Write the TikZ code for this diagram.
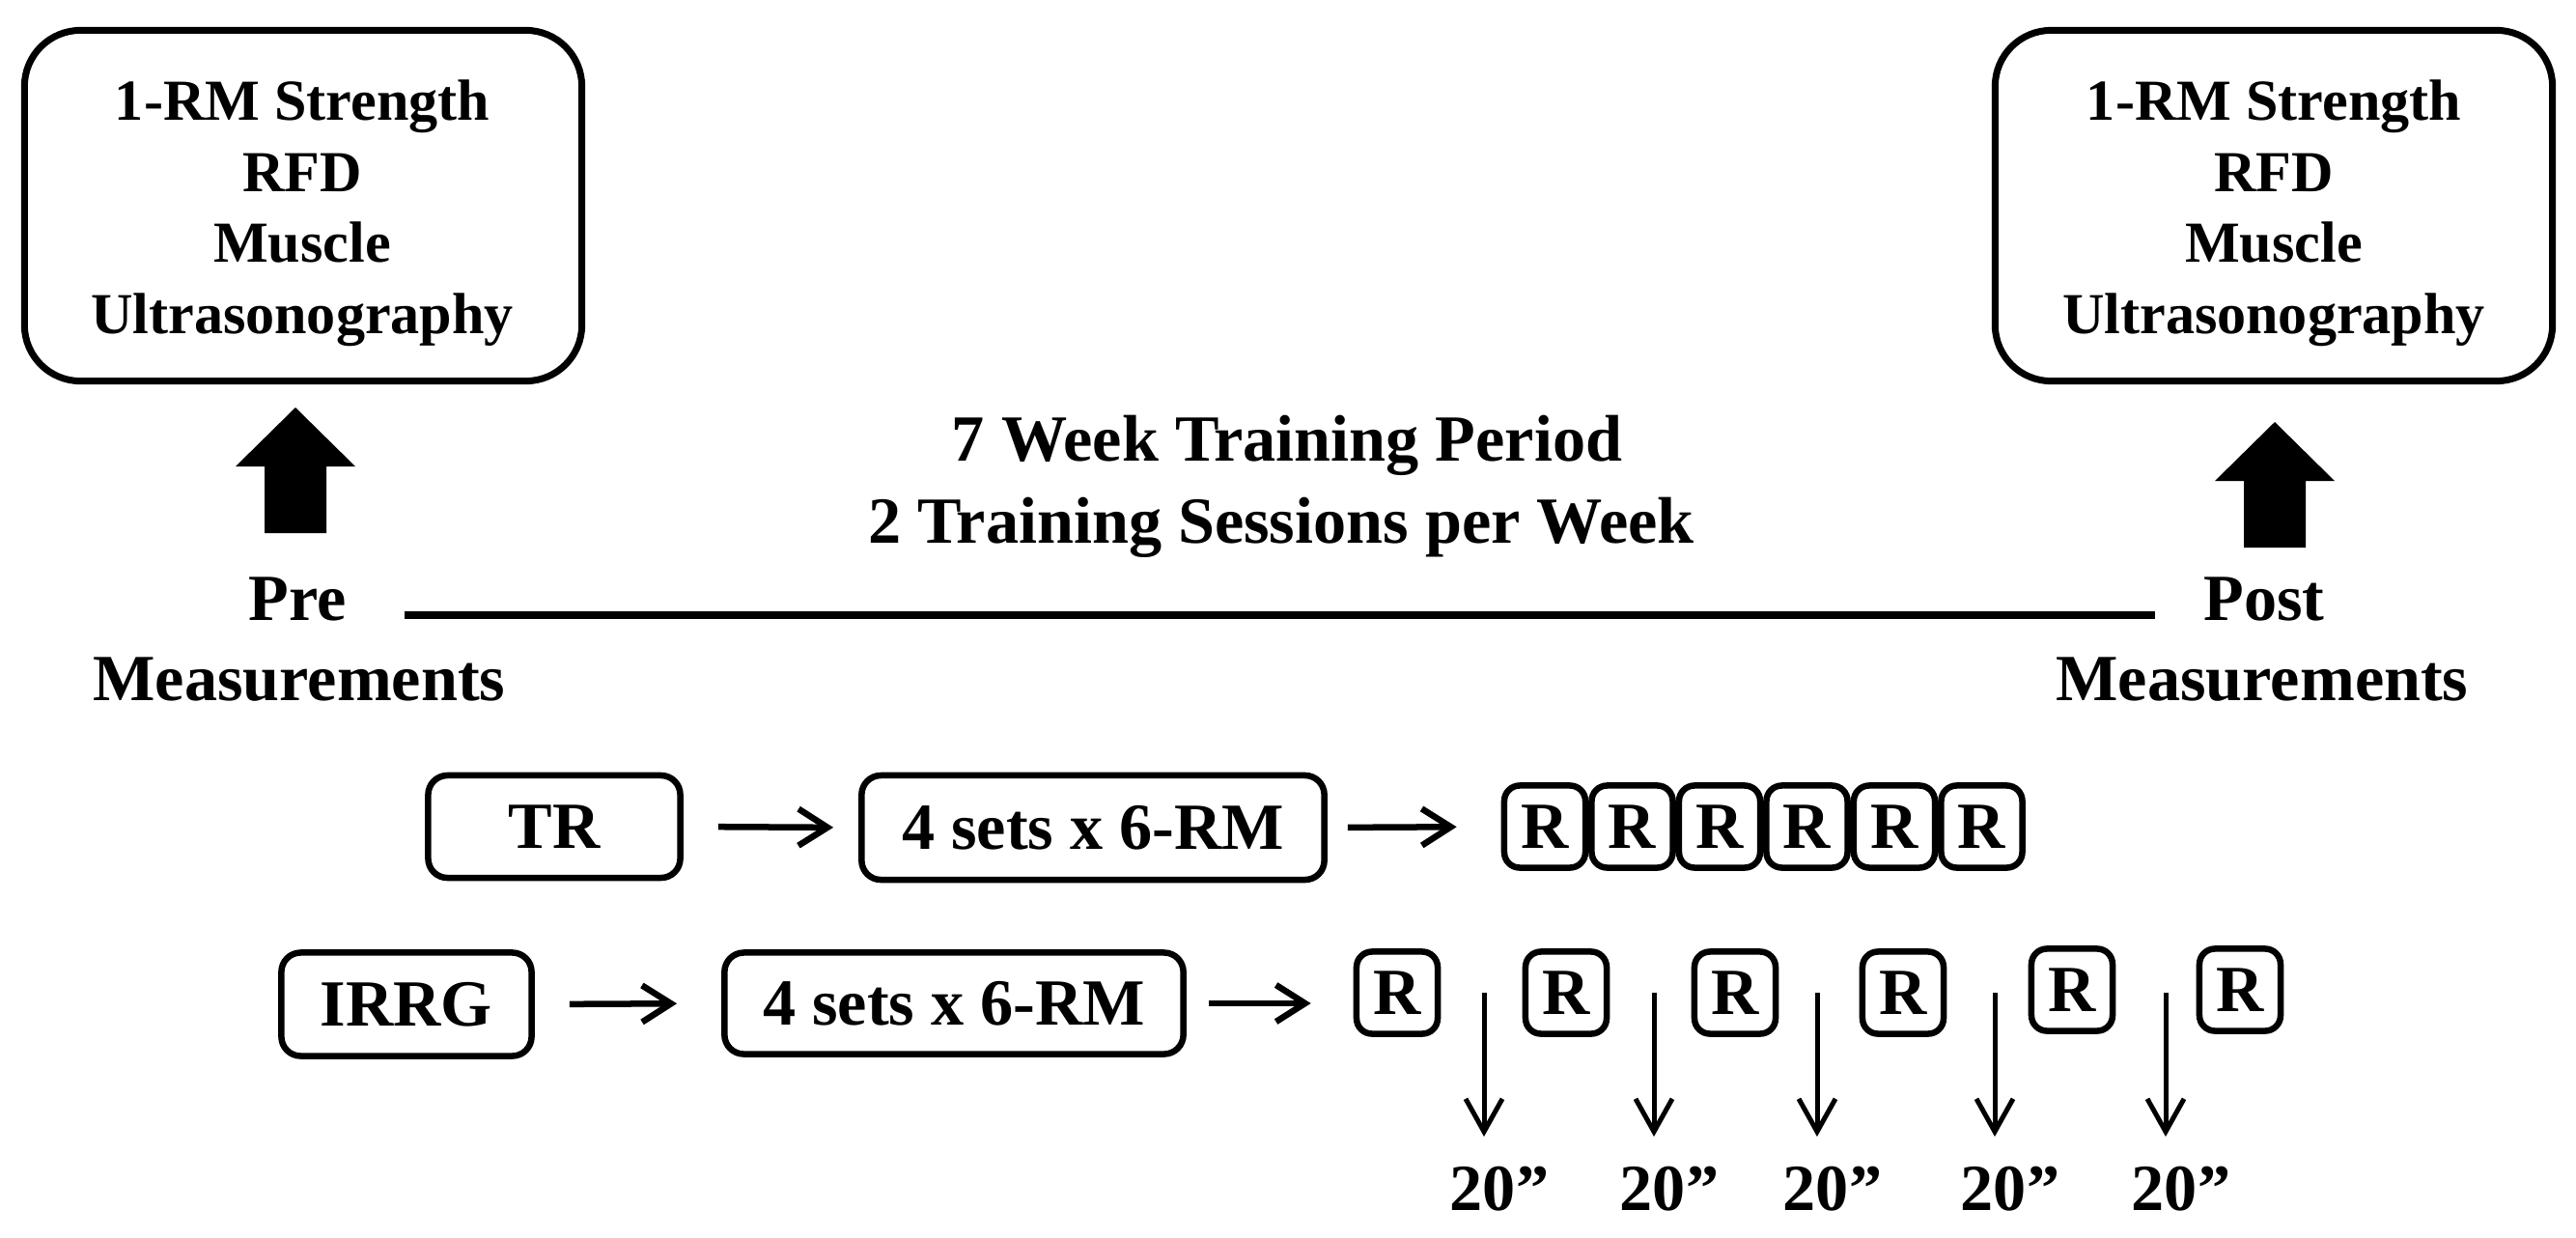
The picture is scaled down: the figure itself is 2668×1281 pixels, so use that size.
\documentclass[tikz,border=0pt]{standalone}
\usepackage{fontspec}
\setmainfont{Liberation Serif}
\usetikzlibrary{arrows.meta}
\begin{document}
\begin{tikzpicture}[x=0.01cm,y=-0.01cm,
  bigbox/.style={draw,line width=0.07cm,rounded corners=0.58cm,minimum width=5.77cm,minimum height=3.63cm,inner sep=0pt},
  boxtext/.style={align=center,font=\fontsize{17.1pt}{20.9pt}\selectfont\bfseries,inner sep=0pt},
  bigtext/.style={font=\fontsize{19.4pt}{24pt}\selectfont\bfseries,inner sep=0pt,anchor=base},
  stepbox/.style={draw,line width=0.065cm,rounded corners=0.2cm,inner sep=0pt,font=\fontsize{19.4pt}{24pt}\selectfont\bfseries},
  rbox/.style={stepbox,rounded corners=0.16cm,minimum width=0.84cm,minimum height=0.85cm},
  conn/.style={line width=0.065cm,-{Straight Barb[length=0.3cm,width=0.38cm]}},
  down/.style={line width=0.05cm,-{Straight Barb[length=0.34cm,width=0.38cm]}},
  blockarrow/.style={fill=black}
]
\fill[white] (0,0) rectangle (2668,1281);
\useasboundingbox (0,0) rectangle (2668,1281);

% measurement boxes
\node[bigbox] (prebox) at (314,213) {};
\node[boxtext] (pretext) at (313,221) {1-RM Strength\\RFD\\Muscle\\Ultrasonography};
\node[bigbox] (postbox) at (2355,213) {};
\node[boxtext] (posttext) at (2355,221) {1-RM Strength\\RFD\\Muscle\\Ultrasonography};

% block arrows
\fill[blockarrow] (306,422) -- (368,483) -- (338,483) -- (338,552) -- (274,552) -- (274,483) -- (244,483) -- cycle;
\fill[blockarrow] (2356,437) -- (2418,498) -- (2388,498) -- (2388,567) -- (2324,567) -- (2324,498) -- (2294,498) -- cycle;

% labels
\node[bigtext] (pre) at (308,642) {Pre};
\node[bigtext] (premeas) at (310,725) {Measurements};
\node[bigtext] (post) at (2345,642) {Post};
\node[bigtext] (postmeas) at (2343,725) {Measurements};
\node[bigtext] (t1) at (1333,477) {7 Week Training Period};
\node[bigtext] (t2) at (1327,562) {2 Training Sessions per Week};

% timeline
\coordinate (tl1) at (419,637);
\coordinate (tl2) at (2232,637);
\draw[line width=0.08cm] (tl1) -- (tl2);

% TR row
\node[stepbox,minimum width=2.61cm,minimum height=1.06cm] (tr) at (574,856) {TR};
\node[stepbox,minimum width=4.79cm,minimum height=1.08cm] (sets1) at (1132,857) {4 sets x 6-RM};
\foreach \i in {0,...,5} {
  \node[rbox] (r1\i) at ({1600+90.5*\i},856) {R};
}
\draw[conn,shorten <=0.36cm,shorten >=0.26cm] (tr.east) -- (sets1.west);
\draw[conn,shorten <=0.21cm,shorten >=0.46cm] (sets1.east) -- (r10.west);

% IRRG row
\node[stepbox,minimum width=2.59cm,minimum height=1.07cm] (irrg) at (421,1040) {IRRG};
\node[stepbox,minimum width=4.75cm,minimum height=1.05cm] (sets2) at (988,1039) {4 sets x 6-RM};
\node[rbox] (r20) at (1447,1028) {R};
\node[rbox] (r21) at (1622,1028) {R};
\node[rbox] (r22) at (1797,1028) {R};
\node[rbox] (r23) at (1971,1028) {R};
\node[rbox] (r24) at (2146,1025) {R};
\node[rbox] (r25) at (2320,1025) {R};
\draw[conn,shorten <=0.36cm,shorten >=0.46cm] (irrg.east) -- (sets2.west);
\draw[conn,shorten <=0.23cm,shorten >=0.44cm] (sets2.east) -- (sets2.east -| r20.west);

% rest intervals
\foreach \x [count=\k] in {1537,1713,1882,2066,2243} {
  \coordinate (ds\k) at (\x,1028);
  \coordinate (de\k) at (\x,1177);
  \draw[down] (ds\k) -- (de\k);
  \node[bigtext] (rest\k) at (\x+16,1253) {20”};
}
\end{tikzpicture}
\end{document}
